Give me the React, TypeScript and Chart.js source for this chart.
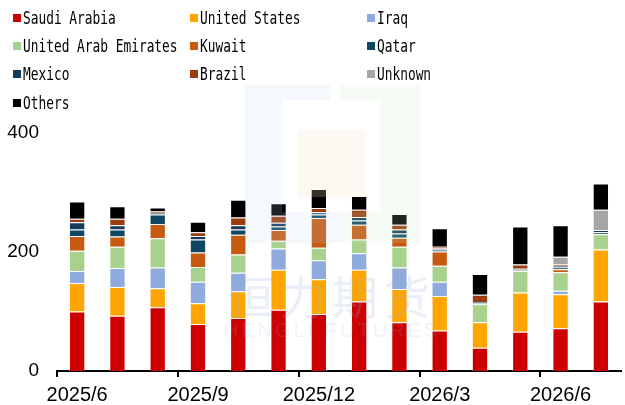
import React, { useEffect, useRef } from "react";
import { Chart, registerables } from "chart.js";

Chart.register(...registerables);

const months = [
  "2025/6", "2025/7", "2025/8", "2025/9", "2025/10", "2025/11", "2025/12",
  "2026/1", "2026/2", "2026/3", "2026/4", "2026/5", "2026/6", "2026/7",
];

const saudiArabia = [100, 93, 107, 79, 89, 103, 96, 117, 82, 68, 39, 66, 72, 117];
const unitedStates = [48, 48, 32, 35, 45, 67, 58, 53, 56, 58, 43, 66, 57, 87];
const iraq = [20, 32, 35, 36, 31, 36, 32, 28, 36, 24, 0, 0, 6, 0];
const uae = [34, 36, 49, 25, 31, 13, 21, 23, 35, 27, 30, 36, 31, 26];
const kuwait = [25, 17, 24, 24, 33, 18, 50, 25, 15, 24, 0, 1, 5, 0];
const qatar = [11, 12, 16, 22, 9, 6, 6, 7, 7, 3, 2, 2, 3, 3];
const mexico = [12, 7, 3, 6, 7, 6, 4, 6, 7, 2, 2, 1, 3, 4];
const brazil = [6, 11, 3, 6, 13, 12, 7, 12, 8, 3, 12, 7, 2, 0];
const unknown = [0, 0, 0, 0, 0, 0, 0, 0, 0, 0, 0, 0, 13, 34];
const others = [29, 21, 6, 18, 30, 21, 32, 23, 18, 31, 35, 64, 53, 44];

const yTicks = [0, 200, 400];

const seriesNames = [
  "Saudi Arabia", "United States", "Iraq", "United Arab Emirates", "Kuwait",
  "Qatar", "Mexico", "Brazil", "Unknown", "Others",
];
const seriesData = [saudiArabia, unitedStates, iraq, uae, kuwait, qatar, mexico, brazil, unknown, others];
const seriesColors = [
  "#CC0000", "#FFA500", "#8FAADC", "#A9D18E", "#C55A11",
  "#0F4762", "#163A5A", "#9A3D10", "#A5A5A5", "#000000",
];

const legendCols = [13, 190, 367];
const legendRows = [17.5, 45.5, 74, 102.5];

export default function App() {
  const ref = useRef<HTMLCanvasElement>(null);

  useEffect(() => {
    if (!ref.current) return;
    const chart = new Chart(ref.current, {
      type: "bar",
      data: {
        labels: months,
        datasets: seriesNames.map((name, i) => ({
          label: name,
          data: seriesData[i],
          backgroundColor: seriesColors[i],
          borderColor: "rgba(255,255,255,0.35)",
          borderWidth: 1,
          categoryPercentage: 1,
          barPercentage: 0.405,
        })),
      },
      options: {
        animation: false,
        responsive: false,
        layout: { padding: { top: 133, right: 4, left: 0, bottom: 0 } },
        plugins: {
          legend: { display: false },
          tooltip: { enabled: false },
        },
        scales: {
          x: {
            stacked: true,
            grid: {
              offset: true,
              drawOnChartArea: false,
              drawTicks: true,
              tickLength: 6,
              lineWidth: 2,
              color: (ctx: any) => (ctx.index % 3 === 0 ? "#000" : "rgba(0,0,0,0)"),
            },
            border: { display: true, color: "#000", width: 2 },
            ticks: {
              autoSkip: false,
              maxRotation: 0,
              padding: 6,
              color: "#000",
              font: { family: "'Liberation Sans', Arial, sans-serif", size: 20 },
              callback: (_v: any, i: number) => (i % 3 === 0 ? months[i] : ""),
            },
            afterFit: (s: any) => {
              s.height = 34;
            },
          },
          y: {
            stacked: true,
            min: 0,
            max: 400,
            afterBuildTicks: (s: any) => {
              s.ticks = yTicks.map((v) => ({ value: v }));
            },
            ticks: {
              padding: 18,
              color: "#000",
              font: { family: "'Liberation Sans', Arial, sans-serif", size: 19 },
            },
            grid: { display: false, drawTicks: false },
            border: { display: false },
            afterFit: (s: any) => {
              s.width = 57;
            },
          },
        },
      },
    });
    return () => chart.destroy();
  }, []);

  const wmBlue = "rgba(190,215,240,0.16)";
  const wmGreen = "rgba(200,230,195,0.16)";

  return (
    <div style={{ position: "absolute", left: 0, top: 0, width: 625, height: 405, background: "#fff", overflow: "hidden" }}>
      <canvas ref={ref} width={625} height={405} style={{ position: "absolute", left: 0, top: 0 }} />
      {seriesNames.map((name, i) => {
        const col = legendCols[i % 3];
        const row = legendRows[Math.floor(i / 3)];
        return (
          <div
            key={name}
            style={{ position: "absolute", left: col, top: row - 10, height: 20, display: "flex", alignItems: "center", whiteSpace: "nowrap" }}
          >
            <div style={{ width: 8, height: 8, background: seriesColors[i], marginRight: 2 }} />
            <span
              style={{
                display: "inline-block",
                fontFamily: "'DejaVu Sans Mono', monospace",
                fontSize: 17,
                lineHeight: "20px",
                color: "#000",
                transform: "scaleX(0.755)",
                transformOrigin: "left center",
              }}
            >
              {name}
            </span>
          </div>
        );
      })}
      {/* faint watermark */}
      <div style={{ position: "absolute", inset: 0, pointerEvents: "none" }}>
        <div style={{ position: "absolute", left: 245, top: 85, width: 37, height: 158, background: wmBlue }} />
        <div style={{ position: "absolute", left: 282, top: 85, width: 48, height: 15, background: wmBlue }} />
        <div style={{ position: "absolute", left: 282, top: 212, width: 58, height: 31, background: wmBlue }} />
        <div style={{ position: "absolute", left: 340, top: 85, width: 80, height: 15, background: wmGreen }} />
        <div style={{ position: "absolute", left: 380, top: 100, width: 40, height: 112, background: wmGreen }} />
        <div style={{ position: "absolute", left: 340, top: 212, width: 80, height: 31, background: wmGreen }} />
        <div style={{ position: "absolute", left: 298, top: 130, width: 67, height: 67, background: "rgba(250,225,200,0.22)" }} />
        <div
          style={{
            position: "absolute", left: 222, top: 268, width: 220, textAlign: "center",
            fontFamily: "'Noto Sans CJK SC', sans-serif", fontSize: 46, lineHeight: "52px",
            color: "rgba(150,175,215,0.2)", letterSpacing: 6, fontWeight: 400,
          }}
        >
          恒力期货
        </div>
        <div
          style={{
            position: "absolute", left: 222, top: 319, width: 220, textAlign: "center",
            fontFamily: "'Liberation Sans', Arial, sans-serif", fontSize: 20, lineHeight: "22px",
            color: "rgba(150,175,215,0.16)", letterSpacing: 3,
          }}
        >
          HENGLI FUTURES
        </div>
      </div>
    </div>
  );
}
